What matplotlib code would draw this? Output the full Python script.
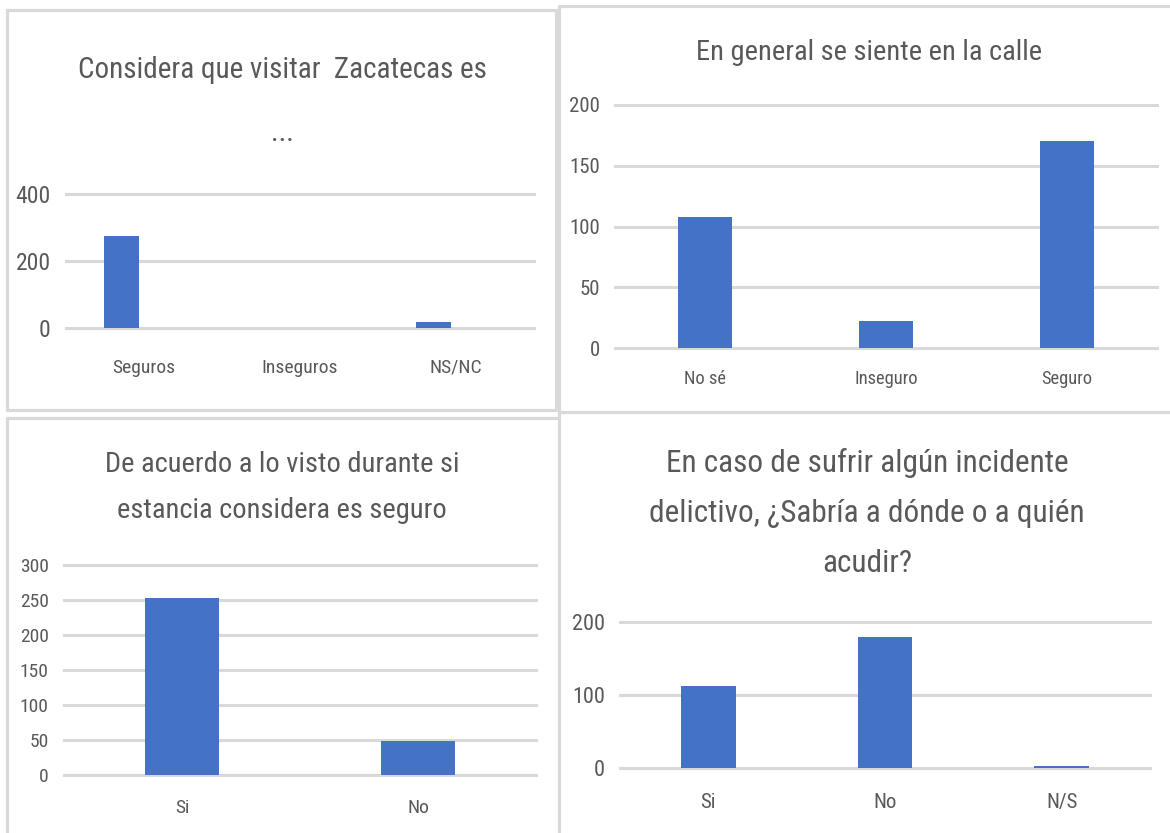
import matplotlib
matplotlib.use("Agg")
import matplotlib.pyplot as plt
from matplotlib import font_manager
from matplotlib.lines import Line2D

# data
cat_visit = ["Seguros", "Inseguros", "NS/NC"]
val_visit = [275, 0, 18]

cat_calle = ["No sé", "Inseguro", "Seguro"]
val_calle = [108, 22, 170]

cat_estancia = ["Si", "No"]
val_estancia = [253, 48]

cat_acudir = ["Si", "No", "N/S"]
val_acudir = [113, 180, 3]

W, H = 1170, 833
BLUE = "#4472C4"
GREY_TXT = "#595959"
GRID = "#d9d9d9"

names = {f.name for f in font_manager.fontManager.ttflist}
FONT = "DejaVu Sans"
for cand in ["Liberation Sans Narrow", "Roboto Condensed", "Open Sans Condensed"]:
    if cand in names:
        FONT = cand
        break
STRETCH = "condensed" if FONT == "DejaVu Sans" else "normal"
plt.rcParams["font.family"] = [FONT, "DejaVu Sans"]
plt.rcParams["font.stretch"] = STRETCH

fig = plt.figure(figsize=(W / 100, H / 100), dpi=100)


def fx(x):
    return x / W


def fy(y):
    return 1 - y / H


def panel(x0, x1, y_top, y_bot, cats, vals, ymax, step, tick_fs, cat_fs, cat_pad,
          width, offset=0.0):
    ax = fig.add_axes([fx(x0), fy(y_bot), fx(x1) - fx(x0), fy(y_top) - fy(y_bot)])
    pos = list(range(len(cats)))
    ax.bar([p + offset for p in pos], vals, width=width, color=BLUE, zorder=3)
    ax.set_xlim(-0.5, len(cats) - 0.5)
    ax.set_ylim(0, ymax)
    ax.set_yticks(list(range(0, ymax + 1, step)))
    ax.set_xticks(pos)
    ax.set_xticklabels(cats)
    for s in ax.spines.values():
        s.set_visible(False)
    ax.yaxis.grid(True, color=GRID, lw=2.2, zorder=0, clip_on=False)
    ax.set_axisbelow(True)
    ax.tick_params(axis="y", length=0, pad=11, labelsize=tick_fs, labelcolor=GREY_TXT)
    ax.tick_params(axis="x", length=0, pad=cat_pad, labelsize=cat_fs, labelcolor=GREY_TXT)
    return ax


def title(x, ys, lines, fs):
    for y, t in zip(ys, lines):
        fig.text(fx(x), fy(y), t, ha="center", va="center", fontsize=fs, color=GREY_TXT)


# top left
panel(66, 534, 194, 328, cat_visit, val_visit, 400, 200, 17, 14, 22, 0.22, offset=-0.145)
title(282, [70, 133], ["Considera que visitar  Zacatecas es", "..."], 21)

# top right
panel(615, 1157, 105, 348, cat_calle, val_calle, 200, 50, 15, 13.3, 16, 0.30)
title(869, [52], ["En general se siente en la calle"], 20.5)

# bottom left
panel(64, 536, 565, 775, cat_estancia, val_estancia, 300, 50, 14, 14, 17, 0.31)
title(282, [465, 510], ["De acuerdo a lo visto durante si", "estancia considera es seguro"], 20.5)

# bottom right
panel(620, 1150, 622, 768, cat_acudir, val_acudir, 200, 100, 16, 15, 18, 0.31)
title(867, [463, 513, 563], ["En caso de sufrir algún incidente",
                            "delictivo, ¿Sabría a dónde o a quién", "acudir?"], 22.5)

# chart frames
frames = [
    [(7, 9.5), (556, 9.5), (556, 409.5), (7, 409.5), (7, 9.5)],
    [(559, 840), (559, 6), (1175, 6)],
    [(1175, 411.5), (559, 411.5)],
    [(7, 840), (7, 418), (556, 418)],
]
for pts in frames:
    xs = [fx(p[0]) for p in pts]
    ys = [fy(p[1]) for p in pts]
    fig.add_artist(Line2D(xs, ys, color=GRID, lw=2.3, transform=fig.transFigure))

fig.savefig("out.png", dpi=100, facecolor="white")
